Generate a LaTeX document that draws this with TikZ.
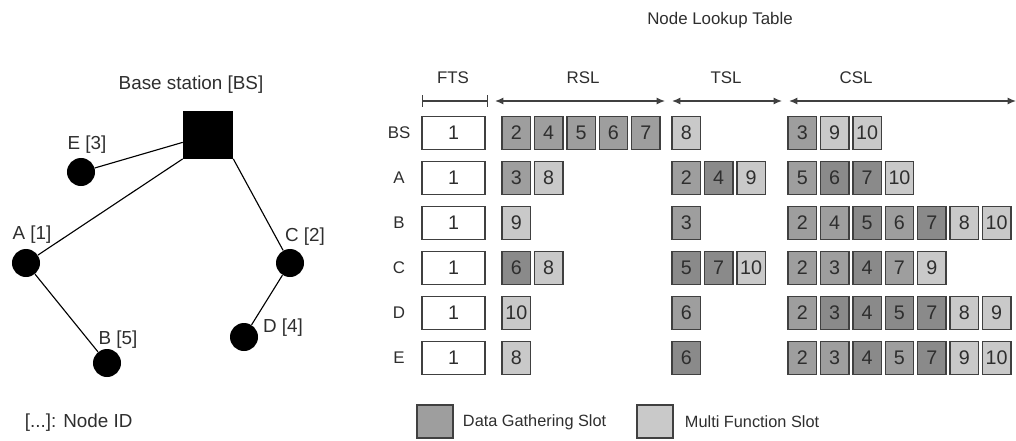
\documentclass[tikz,border=0pt]{standalone}
\usepackage{fontspec}
\setmainfont{Liberation Sans}
\usetikzlibrary{arrows.meta}
\definecolor{shdark}{HTML}{8A8A8A}
\definecolor{shmid}{HTML}{9E9E9E}
\definecolor{shlight}{HTML}{C9C9C9}
\definecolor{txtgray}{HTML}{2E2E2E}
\definecolor{boxline}{HTML}{404040}

\begin{document}
\begin{tikzpicture}[x=0.025cm,y=-0.025cm,
    every node/.style={font=\fontsize{12}{14}\selectfont,text=txtgray},
    treelabel/.style={font=\fontsize{13.4}{15}\selectfont},
    slot/.style={draw=boxline,line width=1pt,minimum width=0.71cm,minimum height=0.83cm,inner sep=0pt,
                 font=\fontsize{14}{16}\selectfont},
    fts/.style={slot,fill=white,minimum width=1.58cm},
    dk/.style={fill=shdark},
    mdg/.style={fill=shmid},
    lgt/.style={fill=shlight},
    sensor/.style={circle,fill=black,minimum size=0.7cm,inner sep=0pt}]
		\useasboundingbox (0,0) rectangle (1016,440);

		% tree
		\node[fill=black,minimum width=1.25cm,minimum height=1.18cm,inner sep=0pt] (BS) at (208,135) {};
		\node[sensor] (E) at (81,172) {};
		\node[sensor] (A) at (26,263) {};
		\node[sensor] (C) at (290,263) {};
		\node[sensor] (B) at (107,363) {};
		\node[sensor] (D) at (244,337) {};

		\node[treelabel] (lBS) at (191,85) {Base station [BS]};
		\node[treelabel] (lE) at (87,145) {E [3]};
		\node[treelabel] (lA) at (32,235) {A [1]};
		\node[treelabel] (lC) at (305,237) {C [2]};
		\node[treelabel] (lB) at (118,340) {B [5]};
		\node[treelabel] (lD) at (283,328) {D [4]};
		\node[treelabel,anchor=west] (nid) at (20,423) {[...]: Node ID};

		\begin{scope}[line width=0.8pt]
			\path[draw] (E) -- (BS);
			\path[draw] (A) -- (BS.south west);
			\path[draw] (C) -- (BS.south east);
			\path[draw] (A) -- (B);
			\path[draw] (C) -- (D);
		\end{scope}

		% table header
		\node (title) at (720,20) {Node Lookup Table};
		\node (hFTS) at (453,78) {FTS};
		\node (hRSL) at (583,78) {RSL};
		\node (hTSL) at (726,78) {TSL};
		\node (hCSL) at (856,78) {CSL};

		\coordinate (f1) at (422,101);
		\coordinate (f2) at (488,101);
		\coordinate (r1) at (495,101);
		\coordinate (r2) at (665,101);
		\coordinate (t1) at (672,101);
		\coordinate (t2) at (782,101);
		\coordinate (c1) at (789,101);
		\coordinate (c2) at (1016,101);

		\begin{scope}[line width=0.9pt,draw=boxline,
		              >={Latex[length=6pt,width=5pt]}]
			\draw[boxline,{Bar[width=8pt]}-{Bar[width=8pt]}] (f1) -- (f2);
			\draw[boxline,<->] (r1) -- (r2);
			\draw[boxline,<->] (t1) -- (t2);
			\draw[boxline,<->] (c1) -- (c2);
		\end{scope}

		% rows
		\node (nBS) at (399,133) {BS};
		\node (nA) at (399,178) {A};
		\node (nB) at (399,223) {B};
		\node (nC) at (399,268) {C};
		\node (nD) at (399,313) {D};
		\node (nE) at (399,358) {E};

		\foreach \r/\y in {BS/133,A/178,B/223,C/268,D/313,E/358}
			\node[fts] (\r-f) at (453.5,\y) {1};

		% BS
		\foreach \v/\s [count=\i from 0] in {2/mdg,4/mdg,5/mdg,6/mdg,7/mdg}
			\node[slot,\s] (BS-r\i) at (516.25+32.4*\i,133) {\v};
		\foreach \v/\s [count=\i from 0] in {8/lgt}
			\node[slot,\s] (BS-t\i) at (686.25+32.4*\i,133) {\v};
		\foreach \v/\s [count=\i from 0] in {3/mdg,9/lgt,10/lgt}
			\node[slot,\s] (BS-c\i) at (802.25+32.4*\i,133) {\v};
		% A
		\foreach \v/\s [count=\i from 0] in {3/mdg,8/lgt}
			\node[slot,\s] (A-r\i) at (516.25+32.4*\i,178) {\v};
		\foreach \v/\s [count=\i from 0] in {2/mdg,4/dk,9/lgt}
			\node[slot,\s] (A-t\i) at (686.25+32.4*\i,178) {\v};
		\foreach \v/\s [count=\i from 0] in {5/mdg,6/dk,7/dk,10/lgt}
			\node[slot,\s] (A-c\i) at (802.25+32.4*\i,178) {\v};
		% B
		\foreach \v/\s [count=\i from 0] in {9/lgt}
			\node[slot,\s] (B-r\i) at (516.25+32.4*\i,223) {\v};
		\foreach \v/\s [count=\i from 0] in {3/mdg}
			\node[slot,\s] (B-t\i) at (686.25+32.4*\i,223) {\v};
		\foreach \v/\s [count=\i from 0] in {2/mdg,4/mdg,5/dk,6/mdg,7/dk,8/lgt,10/lgt}
			\node[slot,\s] (B-c\i) at (802.25+32.4*\i,223) {\v};
		% C
		\foreach \v/\s [count=\i from 0] in {6/dk,8/lgt}
			\node[slot,\s] (C-r\i) at (516.25+32.4*\i,268) {\v};
		\foreach \v/\s [count=\i from 0] in {5/dk,7/dk,10/lgt}
			\node[slot,\s] (C-t\i) at (686.25+32.4*\i,268) {\v};
		\foreach \v/\s [count=\i from 0] in {2/mdg,3/mdg,4/dk,7/mdg,9/lgt}
			\node[slot,\s] (C-c\i) at (802.25+32.4*\i,268) {\v};
		% D
		\foreach \v/\s [count=\i from 0] in {10/lgt}
			\node[slot,\s] (D-r\i) at (516.25+32.4*\i,313) {\v};
		\foreach \v/\s [count=\i from 0] in {6/mdg}
			\node[slot,\s] (D-t\i) at (686.25+32.4*\i,313) {\v};
		\foreach \v/\s [count=\i from 0] in {2/mdg,3/dk,4/dk,5/dk,7/dk,8/lgt,9/lgt}
			\node[slot,\s] (D-c\i) at (802.25+32.4*\i,313) {\v};
		% E
		\foreach \v/\s [count=\i from 0] in {8/lgt}
			\node[slot,\s] (E-r\i) at (516.25+32.4*\i,358) {\v};
		\foreach \v/\s [count=\i from 0] in {6/dk}
			\node[slot,\s] (E-t\i) at (686.25+32.4*\i,358) {\v};
		\foreach \v/\s [count=\i from 0] in {2/mdg,3/mdg,4/dk,5/mdg,7/dk,9/lgt,10/lgt}
			\node[slot,\s] (E-c\i) at (802.25+32.4*\i,358) {\v};

		% legend
		\node[slot,mdg,minimum width=0.9cm] (legDG) at (435,421.5) {};
		\node[anchor=west,font=\fontsize{11.6}{14}\selectfont] (txtDG) at (458,422) {Data Gathering Slot};
		\node[slot,lgt,minimum width=0.9cm] (legMF) at (655,421.5) {};
		\node[anchor=west,font=\fontsize{11.6}{14}\selectfont] (txtMF) at (680,422) {Multi Function Slot};
\end{tikzpicture}
\end{document}
